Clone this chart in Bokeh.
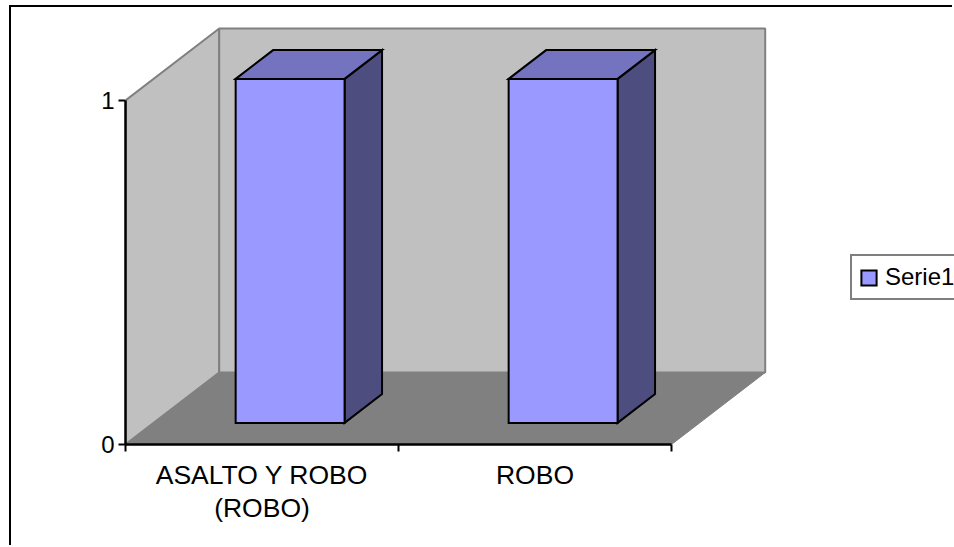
from bokeh.plotting import figure
from bokeh.models import (FixedTicker, Legend, LegendItem, LinearAxis, Range1d)
from bokeh.embed import file_html
from bokeh.resources import INLINE

categories = ["ASALTO Y ROBO\n(ROBO)", "ROBO"]
serie1 = [1, 1]
series_name = "Serie1"
y_ticks = [0, 1]

FONT = "Liberation Sans"
FRONT, TOP, SIDE = "#9999ff", "#7373bf", "#4d4d80"
WALL, FLOOR, WALL_LINE = "#c0c0c0", "#808080", "#808080"

OX, OY = 11, 7                   # page position of the canvas
W, H = 954 - OX, 547 - OY
LEFT, BASE = 125 - OX, 444 - OY  # canvas position of the axes' origin
PX_CAT, PX_VAL = 273, 344        # pixels per category / per value unit
DX, DY = 93.7 / PX_CAT, 72 / PX_VAL   # full depth of the 3-D box, in data units
BAR_W = 0.399
D0, D1 = 0.3, 0.7                # bar's depth span as fraction of box depth

n = len(categories)
vmax = max(y_ticks)

p = figure(width=W, height=H, output_backend="svg", toolbar_location=None,
           x_range=Range1d(0, (W - LEFT) / PX_CAT), y_range=Range1d(0, BASE / PX_VAL),
           min_border_left=LEFT, min_border_right=0, min_border_top=0,
           min_border_bottom=H - BASE, x_axis_type=None, y_axis_type=None,
           outline_line_color=None, background_fill_color="white",
           margin=(5, 0, 0, 9),
           styles={"border-left": "2px solid black", "border-top": "2px solid black"})
p.grid.visible = False


def proj(x, y, d):
    return x + d * DX, y + d * DY


def face(pts, **kw):
    xs, ys = zip(*pts)
    p.patch(list(xs), list(ys), **kw)


wall_kw = dict(fill_color=WALL, line_color=WALL_LINE, line_width=2)
# side wall, back wall, floor
face([proj(0, vmax, 0), proj(0, vmax, 1), proj(0, 0, 1), proj(0, 0, 0)], **wall_kw)
face([proj(0, vmax, 1), proj(n, vmax, 1), proj(n, 0, 1), proj(0, 0, 1)], **wall_kw)
face([proj(0, 0, 0), proj(n, 0, 0), proj(n, 0, 1), proj(0, 0, 1)],
     fill_color=FLOOR, line_color=FLOOR, line_width=1)

bar_kw = dict(line_color="black", line_width=2, line_join="miter")
front_bars = None
for i, v in enumerate(serie1):
    c = i + 0.5
    x0, x1 = c - BAR_W / 2, c + BAR_W / 2
    # side
    face([proj(x1, 0, D0), proj(x1, 0, D1), proj(x1, v, D1), proj(x1, v, D0)],
         fill_color=SIDE, **bar_kw)
    # top
    face([proj(x0, v, D0), proj(x0, v, D1), proj(x1, v, D1), proj(x1, v, D0)],
         fill_color=TOP, **bar_kw)
    # front
    fx0, fy0 = proj(x0, 0, D0)
    fx1, fy1 = proj(x1, v, D0)
    r = p.quad(left=[fx0], right=[fx1], bottom=[fy0], top=[fy1], fill_color=FRONT, **bar_kw)
    front_bars = front_bars or r

# axes
ax_y = LinearAxis(ticker=FixedTicker(ticks=y_ticks), bounds=(0, vmax),
                  axis_line_color="black", axis_line_width=2.5,
                  major_tick_line_color="black", major_tick_line_width=2,
                  major_tick_in=0, major_tick_out=7, minor_tick_in=0, minor_tick_out=0,
                  major_label_text_font=FONT, major_label_text_font_size="24px",
                  major_label_text_color="black", major_label_standoff=4)
p.add_layout(ax_y, "left")

ax_x = LinearAxis(ticker=FixedTicker(ticks=[i + 0.5 for i in range(n)],
                                     minor_ticks=list(range(n + 1))),
                  bounds=(0, n),
                  major_label_overrides={i + 0.5: c for i, c in enumerate(categories)},
                  axis_line_color="black", axis_line_width=2.5,
                  major_tick_in=0, major_tick_out=0,
                  minor_tick_line_color="black", minor_tick_line_width=2,
                  minor_tick_in=0, minor_tick_out=7,
                  major_label_text_font=FONT, major_label_text_font_size="26.5px",
                  major_label_text_line_height=1.1,
                  major_label_text_color="black", major_label_standoff=8)
p.add_layout(ax_x, "below")

# legend
legend = Legend(items=[LegendItem(label=series_name, renderers=[front_bars])],
                location=(850 - OX - LEFT, BASE - (300 - OY)), orientation="vertical",
                border_line_color="black", border_line_width=2,
                background_fill_color="white", background_fill_alpha=1,
                padding=7, margin=0, glyph_width=19, glyph_height=19, label_height=23,
                label_width=200, label_standoff=7, label_text_font=FONT,
                label_text_font_size="24px", label_text_color="black")
p.add_layout(legend, "center")

open("out.html", "w").write(file_html(p, INLINE))
